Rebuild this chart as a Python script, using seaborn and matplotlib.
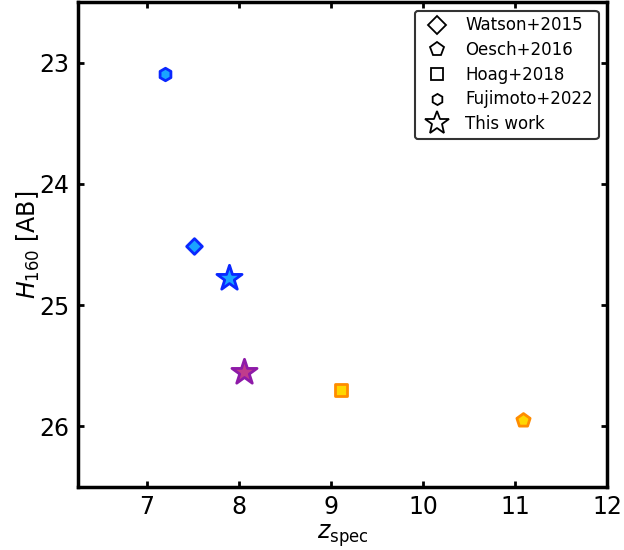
import matplotlib
matplotlib.use('Agg')
import matplotlib.pyplot as plt
import seaborn as sns
from matplotlib.lines import Line2D

# values
refs = ['Watson+2015', 'Oesch+2016', 'Hoag+2018', 'Fujimoto+2022', 'This work', 'This work']
z_spec = [7.51, 11.09, 9.11, 7.20, 7.89, 8.05]
h160 = [24.51, 25.95, 25.70, 23.09, 24.78, 25.55]
face_colors = ['#1aa3ff', '#ffd700', '#ffd700', '#1aa3ff', '#1aa3ff', '#c03c8c']
edge_colors = ['#0a28ff', '#ff8c00', '#ff8c00', '#0a28ff', '#0a28ff', '#8e1aa8']

legend_labels = ['Watson+2015', 'Oesch+2016', 'Hoag+2018', 'Fujimoto+2022', 'This work']
markers = {'Watson+2015': 'D', 'Oesch+2016': 'p', 'Hoag+2018': 's',
           'Fujimoto+2022': 'h', 'This work': '*'}
sizes = {'Watson+2015': 8, 'Oesch+2016': 10, 'Hoag+2018': 8,
         'Fujimoto+2022': 9, 'This work': 19}
legend_sizes = {'Watson+2015': 9, 'Oesch+2016': 10, 'Hoag+2018': 9,
                'Fujimoto+2022': 8, 'This work': 18}

sns.set_style('ticks')
plt.rcParams['font.family'] = ['DejaVu Sans']
plt.rcParams['mathtext.fontset'] = 'dejavusans'
plt.rcParams['text.color'] = 'black'
plt.rcParams['axes.labelcolor'] = 'black'
plt.rcParams['xtick.color'] = 'black'
plt.rcParams['ytick.color'] = 'black'

fig, ax = plt.subplots(figsize=(6.24, 5.5), dpi=100)
fig.subplots_adjust(left=0.125, right=0.973, top=0.996, bottom=0.115)

for ref, x, y, fc, ec in zip(refs, z_spec, h160, face_colors, edge_colors):
    sns.scatterplot(x=[x], y=[y], ax=ax, marker=markers[ref], s=sizes[ref] ** 2,
                    color=fc, edgecolor=ec, linewidth=2, zorder=3)

ax.set_xlim(6.25, 12)
ax.set_ylim(26.5, 22.5)
ax.set_xticks([7, 8, 9, 10, 11, 12])
ax.set_yticks([23, 24, 25, 26])
ax.set_xlabel(r'$z_{\rm spec}$', fontsize=17, labelpad=2)
ax.set_ylabel(r'$H_{160}$ [AB]', fontsize=17, labelpad=-2)

ax.tick_params(direction='in', length=4, width=2, labelsize=17,
               top=True, right=True, pad=6, colors='black')
for sp in ax.spines.values():
    sp.set_linewidth(2.5)
    sp.set_color('black')

handles = [Line2D([], [], ls='none', marker=markers[l], markersize=legend_sizes[l],
                  markerfacecolor='none', markeredgecolor='black', markeredgewidth=1.3)
           for l in legend_labels]
leg = ax.legend(handles, legend_labels, loc='upper right', fontsize=12,
                frameon=True, fancybox=True, borderaxespad=0.5, borderpad=0.35,
                handletextpad=0.7, labelspacing=0.4)
leg.get_frame().set_edgecolor('#333333')
leg.get_frame().set_linewidth(1.5)
leg.get_frame().set_alpha(1)

fig.savefig('out.png', dpi=100)
